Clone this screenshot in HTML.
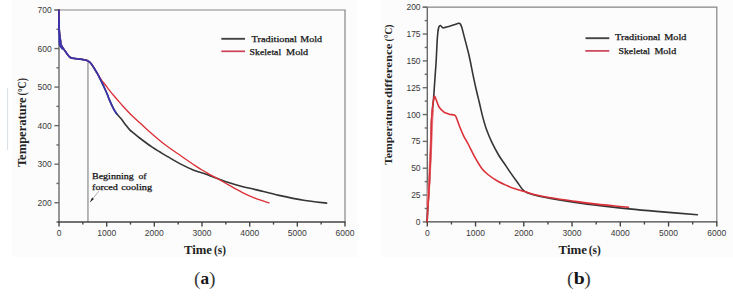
<!DOCTYPE html>
<html><head><meta charset="utf-8"><style>
html,body{margin:0;padding:0;background:#fff;width:733px;height:296px;overflow:hidden;font-family:"Liberation Sans",sans-serif;}
svg{display:block;}
</style></head><body>
<svg width="733" height="296" viewBox="0 0 733 296"><rect x="12" y="0" width="346" height="257" fill="#fcfcfc"/><rect x="382" y="0" width="351" height="257" fill="#fcfcfc"/><line x1="7.6" y1="88" x2="7.6" y2="150" stroke="#d6dee4" stroke-width="1"/><g stroke="#858585" stroke-width="1.2" fill="none"><line x1="54.4" y1="10" x2="345.6" y2="10"/><line x1="345" y1="10" x2="345" y2="222"/></g><line x1="87.95" y1="62.5" x2="87.95" y2="222" stroke="#9a9a9a" stroke-width="1.4"/><g stroke="#6a6a6a" stroke-width="1.4" fill="none"><line x1="59" y1="10" x2="59" y2="222"/><line x1="54.4" y1="10.00" x2="59" y2="10.00"/><line x1="56.4" y1="29.27" x2="59" y2="29.27"/><line x1="54.4" y1="48.55" x2="59" y2="48.55"/><line x1="56.4" y1="67.82" x2="59" y2="67.82"/><line x1="54.4" y1="87.09" x2="59" y2="87.09"/><line x1="56.4" y1="106.36" x2="59" y2="106.36"/><line x1="54.4" y1="125.64" x2="59" y2="125.64"/><line x1="56.4" y1="144.91" x2="59" y2="144.91"/><line x1="54.4" y1="164.18" x2="59" y2="164.18"/><line x1="56.4" y1="183.45" x2="59" y2="183.45"/><line x1="54.4" y1="202.73" x2="59" y2="202.73"/><line x1="56.4" y1="222.00" x2="59" y2="222.00"/></g><g stroke="#454545" stroke-width="1.4" fill="none"><line x1="57.8" y1="222" x2="345.6" y2="222"/><line x1="59.00" y1="222" x2="59.00" y2="226.6"/><line x1="82.83" y1="222" x2="82.83" y2="224.6"/><line x1="106.67" y1="222" x2="106.67" y2="226.6"/><line x1="130.50" y1="222" x2="130.50" y2="224.6"/><line x1="154.33" y1="222" x2="154.33" y2="226.6"/><line x1="178.17" y1="222" x2="178.17" y2="224.6"/><line x1="202.00" y1="222" x2="202.00" y2="226.6"/><line x1="225.83" y1="222" x2="225.83" y2="224.6"/><line x1="249.67" y1="222" x2="249.67" y2="226.6"/><line x1="273.50" y1="222" x2="273.50" y2="224.6"/><line x1="297.33" y1="222" x2="297.33" y2="226.6"/><line x1="321.17" y1="222" x2="321.17" y2="224.6"/><line x1="345.00" y1="222" x2="345.00" y2="226.6"/></g><path d="M58.90,10.00 C58.92,12.50 58.88,21.00 59.00,25.00 C59.12,29.00 59.33,31.33 59.60,34.00 C59.87,36.67 60.35,39.20 60.60,41.00 C60.85,42.80 60.35,43.12 61.10,44.80 C61.85,46.48 63.77,49.15 65.10,51.10 C66.43,53.05 67.92,55.32 69.10,56.50 C70.28,57.68 70.33,57.77 72.20,58.20 C74.07,58.63 78.12,58.80 80.30,59.10 C82.48,59.40 83.95,59.63 85.30,60.00 C86.65,60.37 87.42,60.68 88.40,61.30 C89.38,61.92 90.22,62.50 91.20,63.70 C92.18,64.90 93.28,66.88 94.30,68.50 C95.32,70.12 96.08,71.17 97.30,73.40 C98.52,75.63 100.37,79.38 101.60,81.90 C102.83,84.42 103.68,86.27 104.70,88.50 C105.72,90.73 106.93,93.45 107.70,95.30 C108.47,97.15 108.32,97.33 109.30,99.60 C110.28,101.87 112.33,106.48 113.60,108.90 C114.87,111.32 115.67,112.48 116.90,114.10 C118.13,115.72 119.65,116.97 121.00,118.60 C122.35,120.23 123.53,122.02 125.00,123.90 C126.47,125.78 128.30,128.32 129.80,129.90 C131.30,131.48 132.25,131.97 134.00,133.40 C135.75,134.83 137.27,136.20 140.30,138.50 C143.33,140.80 148.92,144.95 152.20,147.20 C155.48,149.45 157.35,150.38 160.00,152.00 C162.65,153.62 164.72,154.92 168.10,156.90 C171.48,158.88 176.02,161.67 180.30,163.90 C184.58,166.13 190.52,168.90 193.80,170.30 C197.08,171.70 197.97,171.63 200.00,172.30 C202.03,172.97 204.00,173.60 206.00,174.30 C208.00,175.00 210.00,175.77 212.00,176.50 C214.00,177.23 215.25,177.70 218.00,178.70 C220.75,179.70 224.50,181.20 228.50,182.50 C232.50,183.80 237.50,185.32 242.00,186.50 C246.50,187.68 249.32,188.12 255.50,189.60 C261.68,191.08 271.07,193.62 279.10,195.40 C287.13,197.18 295.78,199.02 303.70,200.30 C311.62,201.58 322.78,202.63 326.60,203.10" stroke="#353535" stroke-width="1.6" fill="none" stroke-linejoin="round" stroke-linecap="round"/><path d="M58.90,10.00 C58.92,12.50 58.88,21.00 59.00,25.00 C59.12,29.00 59.33,31.33 59.60,34.00 C59.87,36.67 60.35,39.20 60.60,41.00 C60.85,42.80 60.35,43.12 61.10,44.80 C61.85,46.48 63.77,49.15 65.10,51.10 C66.43,53.05 67.92,55.32 69.10,56.50 C70.28,57.68 70.33,57.77 72.20,58.20 C74.07,58.63 78.12,58.80 80.30,59.10 C82.48,59.40 83.95,59.63 85.30,60.00 C86.65,60.37 87.42,60.68 88.40,61.30 C89.38,61.92 90.22,62.50 91.20,63.70 C92.18,64.90 93.28,66.88 94.30,68.50 C95.32,70.12 96.18,71.60 97.30,73.40 C98.42,75.20 99.65,77.37 101.00,79.30 C102.35,81.23 103.98,83.17 105.40,85.00 C106.82,86.83 108.12,88.55 109.50,90.30 C110.88,92.05 112.38,93.92 113.70,95.50 C115.02,97.08 115.85,98.02 117.40,99.80 C118.95,101.58 120.50,103.48 123.00,106.20 C125.50,108.92 129.57,113.30 132.40,116.10 C135.23,118.90 137.30,120.53 140.00,123.00 C142.70,125.47 144.90,127.65 148.60,130.90 C152.30,134.15 157.80,139.02 162.20,142.50 C166.60,145.98 170.88,148.88 175.00,151.80 C179.12,154.72 183.55,157.70 186.90,160.00 C190.25,162.30 192.58,163.93 195.10,165.60 C197.62,167.27 199.75,168.63 202.00,170.00 C204.25,171.37 206.60,172.68 208.60,173.80 C210.60,174.92 212.10,175.67 214.00,176.70 C215.90,177.73 217.58,178.63 220.00,180.00 C222.42,181.37 224.83,182.85 228.50,184.90 C232.17,186.95 237.50,190.05 242.00,192.30 C246.50,194.55 251.00,196.65 255.50,198.40 C260.00,200.15 266.75,202.07 269.00,202.80" stroke="#dc3038" stroke-width="1.35" fill="none" stroke-linejoin="round" stroke-linecap="round"/><path d="M58.90,10.00 C58.92,12.50 58.88,21.00 59.00,25.00 C59.12,29.00 59.33,31.33 59.60,34.00 C59.87,36.67 60.35,39.20 60.60,41.00 C60.85,42.80 60.35,43.12 61.10,44.80 C61.85,46.48 63.77,49.15 65.10,51.10 C66.43,53.05 67.92,55.32 69.10,56.50 C70.28,57.68 70.33,57.77 72.20,58.20 C74.07,58.63 78.12,58.80 80.30,59.10 C82.48,59.40 83.95,59.63 85.30,60.00 C86.65,60.37 87.42,60.68 88.40,61.30 C89.38,61.92 90.22,62.50 91.20,63.70 C92.18,64.90 93.28,66.88 94.30,68.50 C95.32,70.12 96.08,71.17 97.30,73.40 C98.52,75.63 100.37,79.38 101.60,81.90 C102.83,84.42 103.68,86.27 104.70,88.50 C105.72,90.73 106.93,93.45 107.70,95.30 C108.47,97.15 108.32,97.33 109.30,99.60 C110.28,101.87 112.33,106.48 113.60,108.90 C114.87,111.32 116.35,113.23 116.90,114.10" stroke="#3833ad" stroke-width="1.7" fill="none" stroke-linejoin="round" stroke-linecap="round"/><path d="M59.00,20.00 C59.03,22.50 59.13,31.00 59.20,35.00 C59.27,39.00 59.17,42.03 59.40,44.00 C59.63,45.97 60.08,45.97 60.60,46.80 C61.12,47.63 62.18,48.63 62.50,49.00" stroke="#3833ad" stroke-width="1.6" fill="none" stroke-linecap="round"/><g font-family="Liberation Sans" font-size="8.5" fill="#3a3a3a"><text x="51.8" y="13.10" text-anchor="end">700</text><text x="51.8" y="51.65" text-anchor="end">600</text><text x="51.8" y="90.19" text-anchor="end">500</text><text x="51.8" y="128.74" text-anchor="end">400</text><text x="51.8" y="167.28" text-anchor="end">300</text><text x="51.8" y="205.83" text-anchor="end">200</text><text x="59.00" y="236.2" text-anchor="middle">0</text><text x="106.67" y="236.2" text-anchor="middle">1000</text><text x="154.33" y="236.2" text-anchor="middle">2000</text><text x="202.00" y="236.2" text-anchor="middle">3000</text><text x="249.67" y="236.2" text-anchor="middle">4000</text><text x="297.33" y="236.2" text-anchor="middle">5000</text><text x="345.00" y="236.2" text-anchor="middle">6000</text></g><g stroke="#858585" stroke-width="1.2" fill="none"><line x1="422.7" y1="7.2" x2="717.4" y2="7.2"/><line x1="716.8" y1="7.2" x2="716.8" y2="221.9"/></g><g stroke="#6a6a6a" stroke-width="1.4" fill="none"><line x1="427.3" y1="7.2" x2="427.3" y2="221.9"/><line x1="422.7" y1="7.20" x2="427.3" y2="7.20"/><line x1="424.7" y1="20.62" x2="427.3" y2="20.62"/><line x1="422.7" y1="34.04" x2="427.3" y2="34.04"/><line x1="424.7" y1="47.46" x2="427.3" y2="47.46"/><line x1="422.7" y1="60.88" x2="427.3" y2="60.88"/><line x1="424.7" y1="74.29" x2="427.3" y2="74.29"/><line x1="422.7" y1="87.71" x2="427.3" y2="87.71"/><line x1="424.7" y1="101.13" x2="427.3" y2="101.13"/><line x1="422.7" y1="114.55" x2="427.3" y2="114.55"/><line x1="424.7" y1="127.97" x2="427.3" y2="127.97"/><line x1="422.7" y1="141.39" x2="427.3" y2="141.39"/><line x1="424.7" y1="154.81" x2="427.3" y2="154.81"/><line x1="422.7" y1="168.22" x2="427.3" y2="168.22"/><line x1="424.7" y1="181.64" x2="427.3" y2="181.64"/><line x1="422.7" y1="195.06" x2="427.3" y2="195.06"/><line x1="424.7" y1="208.48" x2="427.3" y2="208.48"/><line x1="422.7" y1="221.90" x2="427.3" y2="221.90"/></g><g stroke="#454545" stroke-width="1.4" fill="none"><line x1="426.1" y1="221.9" x2="717.4" y2="221.9"/><line x1="427.30" y1="221.9" x2="427.30" y2="226.5"/><line x1="451.43" y1="221.9" x2="451.43" y2="224.5"/><line x1="475.55" y1="221.9" x2="475.55" y2="226.5"/><line x1="499.68" y1="221.9" x2="499.68" y2="224.5"/><line x1="523.80" y1="221.9" x2="523.80" y2="226.5"/><line x1="547.92" y1="221.9" x2="547.92" y2="224.5"/><line x1="572.05" y1="221.9" x2="572.05" y2="226.5"/><line x1="596.17" y1="221.9" x2="596.17" y2="224.5"/><line x1="620.30" y1="221.9" x2="620.30" y2="226.5"/><line x1="644.42" y1="221.9" x2="644.42" y2="224.5"/><line x1="668.55" y1="221.9" x2="668.55" y2="226.5"/><line x1="692.67" y1="221.9" x2="692.67" y2="224.5"/><line x1="716.80" y1="221.9" x2="716.80" y2="226.5"/></g><path d="M427.10,221.80 C427.25,219.00 427.70,209.97 428.00,205.00 C428.30,200.03 428.63,196.50 428.90,192.00 C429.17,187.50 429.35,183.33 429.60,178.00 C429.85,172.67 430.15,166.33 430.40,160.00 C430.65,153.67 430.90,146.67 431.10,140.00 C431.30,133.33 431.35,125.33 431.60,120.00 C431.85,114.67 432.27,111.67 432.60,108.00 C432.93,104.33 433.28,101.83 433.60,98.00 C433.92,94.17 434.20,89.33 434.50,85.00 C434.80,80.67 435.12,76.08 435.40,72.00 C435.68,67.92 435.92,65.50 436.20,60.50 C436.48,55.50 436.82,46.75 437.10,42.00 C437.38,37.25 437.60,34.52 437.90,32.00 C438.20,29.48 438.47,27.98 438.90,26.90 C439.33,25.82 439.85,25.35 440.50,25.50 C441.15,25.65 441.88,27.53 442.80,27.80 C443.72,28.07 444.73,27.40 446.00,27.10 C447.27,26.80 448.90,26.43 450.40,26.00 C451.90,25.57 453.65,24.95 455.00,24.50 C456.35,24.05 457.67,23.45 458.50,23.30 C459.33,23.15 459.48,23.02 460.00,23.60 C460.52,24.18 460.90,24.63 461.60,26.80 C462.30,28.97 462.97,31.85 464.20,36.60 C465.43,41.35 467.50,48.77 469.00,55.30 C470.50,61.83 471.98,70.02 473.20,75.80 C474.42,81.58 475.25,85.43 476.30,90.00 C477.35,94.57 478.45,98.80 479.50,103.20 C480.55,107.60 481.43,112.00 482.60,116.40 C483.77,120.80 484.93,125.22 486.50,129.60 C488.07,133.98 489.98,138.47 492.00,142.70 C494.02,146.93 496.57,151.57 498.60,155.00 C500.63,158.43 502.40,160.62 504.20,163.30 C506.00,165.98 507.30,168.08 509.40,171.10 C511.50,174.12 514.27,178.02 516.80,181.40 C519.33,184.78 521.52,189.10 524.60,191.40 C527.68,193.70 530.98,194.03 535.30,195.20 C539.62,196.37 543.88,197.20 550.50,198.40 C557.12,199.60 566.43,201.15 575.00,202.40 C583.57,203.65 592.88,204.82 601.90,205.90 C610.92,206.98 620.02,207.98 629.10,208.90 C638.18,209.82 645.02,210.43 656.40,211.40 C667.78,212.37 690.57,214.15 697.40,214.70" stroke="#353535" stroke-width="1.6" fill="none" stroke-linejoin="round" stroke-linecap="round"/><path d="M427.60,205.00 C427.77,202.50 428.30,194.50 428.60,190.00 C428.90,185.50 429.12,183.00 429.40,178.00 C429.68,173.00 430.00,166.33 430.30,160.00 C430.60,153.67 430.92,146.67 431.20,140.00 C431.48,133.33 431.73,125.00 432.00,120.00 C432.27,115.00 432.67,111.67 432.80,110.00" stroke="#e98a90" stroke-width="2.6" fill="none" stroke-linecap="round"/><path d="M427.10,221.80 C427.25,219.00 427.70,209.97 428.00,205.00 C428.30,200.03 428.63,196.50 428.90,192.00 C429.17,187.50 429.35,183.33 429.60,178.00 C429.85,172.67 430.15,166.33 430.40,160.00 C430.65,153.67 430.90,146.67 431.10,140.00 C431.30,133.33 431.33,125.67 431.60,120.00 C431.87,114.33 432.33,109.50 432.70,106.00 C433.07,102.50 433.47,100.62 433.80,99.00 C434.13,97.38 434.22,95.93 434.70,96.30 C435.18,96.67 435.95,99.38 436.70,101.20 C437.45,103.02 437.98,105.38 439.20,107.20 C440.42,109.02 442.60,111.03 444.00,112.10 C445.40,113.17 446.60,113.20 447.60,113.60 C448.60,114.00 448.88,114.27 450.00,114.50 C451.12,114.73 453.28,114.58 454.30,115.00 C455.32,115.42 455.17,114.97 456.10,117.00 C457.03,119.03 458.67,124.10 459.90,127.20 C461.13,130.30 462.08,132.72 463.50,135.60 C464.92,138.48 466.48,140.87 468.40,144.50 C470.32,148.13 472.77,153.42 475.00,157.40 C477.23,161.38 479.55,165.47 481.80,168.40 C484.05,171.33 485.97,172.95 488.50,175.00 C491.03,177.05 493.87,178.92 497.00,180.70 C500.13,182.48 504.30,184.35 507.30,185.70 C510.30,187.05 512.08,187.82 515.00,188.80 C517.92,189.78 521.42,190.60 524.80,191.60 C528.18,192.60 531.02,193.77 535.30,194.80 C539.58,195.83 543.88,196.70 550.50,197.80 C557.12,198.90 567.73,200.38 575.00,201.40 C582.27,202.42 587.73,203.17 594.10,203.90 C600.47,204.63 607.47,205.25 613.20,205.80 C618.93,206.35 625.95,206.97 628.50,207.20" stroke="#dc3038" stroke-width="1.6" fill="none" stroke-linejoin="round" stroke-linecap="round"/><g font-family="Liberation Sans" font-size="8.5" fill="#3a3a3a"><text x="420.6" y="10.30" text-anchor="end">200</text><text x="420.6" y="37.14" text-anchor="end">175</text><text x="420.6" y="63.98" text-anchor="end">150</text><text x="420.6" y="90.81" text-anchor="end">125</text><text x="420.6" y="117.65" text-anchor="end">100</text><text x="420.6" y="144.49" text-anchor="end">75</text><text x="420.6" y="171.33" text-anchor="end">50</text><text x="420.6" y="198.16" text-anchor="end">25</text><text x="420.6" y="225.00" text-anchor="end">0</text><text x="427.30" y="236.2" text-anchor="middle">0</text><text x="475.55" y="236.2" text-anchor="middle">1000</text><text x="523.80" y="236.2" text-anchor="middle">2000</text><text x="572.05" y="236.2" text-anchor="middle">3000</text><text x="620.30" y="236.2" text-anchor="middle">4000</text><text x="668.55" y="236.2" text-anchor="middle">5000</text><text x="716.80" y="236.2" text-anchor="middle">6000</text></g><line x1="221.3" y1="38.8" x2="245" y2="38.8" stroke="#444" stroke-width="1.9"/><line x1="221.3" y1="51.3" x2="245" y2="51.3" stroke="#cc4258" stroke-width="1.7"/><line x1="585.5" y1="38.2" x2="609.3" y2="38.2" stroke="#444" stroke-width="1.9"/><line x1="585.3" y1="50.9" x2="609.3" y2="50.9" stroke="#cc4258" stroke-width="1.7"/><g font-family="Liberation Serif" font-weight="normal" fill="#111" stroke="#111" stroke-width="0.25"><text x="251.60" y="41.80" font-size="9.1" textLength="45.40" lengthAdjust="spacingAndGlyphs">Traditional</text><text x="300.30" y="41.80" font-size="9.1" textLength="21.70" lengthAdjust="spacingAndGlyphs">Mold</text><text x="249.60" y="55.00" font-size="9.1" textLength="31.60" lengthAdjust="spacingAndGlyphs">Skeletal</text><text x="286.10" y="55.00" font-size="9.1" textLength="22.10" lengthAdjust="spacingAndGlyphs">Mold</text><text x="615.10" y="39.70" font-size="9.1" textLength="45.40" lengthAdjust="spacingAndGlyphs">Traditional</text><text x="664.30" y="39.70" font-size="9.1" textLength="22.10" lengthAdjust="spacingAndGlyphs">Mold</text><text x="618.50" y="53.50" font-size="9.1" textLength="31.50" lengthAdjust="spacingAndGlyphs">Skeletal</text><text x="654.40" y="53.50" font-size="9.1" textLength="21.80" lengthAdjust="spacingAndGlyphs">Mold</text></g><g font-family="Liberation Serif" font-weight="normal" fill="#111" stroke="#111" stroke-width="0.25"><text x="92.00" y="178.70" font-size="9.1" textLength="41.70" lengthAdjust="spacingAndGlyphs">Beginning</text><text x="138.40" y="178.70" font-size="9.1" textLength="8.10" lengthAdjust="spacingAndGlyphs">of</text><text x="92.00" y="189.50" font-size="9.1" textLength="25.90" lengthAdjust="spacingAndGlyphs">forced</text><text x="121.20" y="189.50" font-size="9.1" textLength="31.00" lengthAdjust="spacingAndGlyphs">cooling</text></g><line x1="98.8" y1="191.2" x2="92.9" y2="198.6" stroke="#8a8a8a" stroke-width="0.7"/><path d="M89.8,202.4 L92.1,197.6 L93.9,199.1 Z" fill="#1e1e1e"/><g font-family="Liberation Serif" font-weight="bold" fill="#222"><text transform="translate(26.0,167.1) rotate(-90) scale(1,1.0)" x="0" y="0" font-size="12.4" textLength="69.7" lengthAdjust="spacingAndGlyphs">Temperature</text><text transform="translate(26.0,95.6) rotate(-90) scale(1,1.0)" x="0" y="0" font-size="12.4" textLength="17.5" lengthAdjust="spacingAndGlyphs">(°C)</text><text transform="translate(392.1,165.1) rotate(-90) scale(1,0.84)" x="0" y="0" font-size="12.0" textLength="65.5" lengthAdjust="spacingAndGlyphs">Temperature</text><text transform="translate(392.1,98.1) rotate(-90) scale(1,0.84)" x="0" y="0" font-size="12.0" textLength="54.6" lengthAdjust="spacingAndGlyphs">difference</text><text transform="translate(392.1,41.5) rotate(-90) scale(1,0.84)" x="0" y="0" font-size="12.0" textLength="17.0" lengthAdjust="spacingAndGlyphs">(°C)</text><text x="184.00" y="253.90" font-size="12" textLength="28.00" lengthAdjust="spacingAndGlyphs">Time</text><text x="214.10" y="253.90" font-size="12" textLength="11.80" lengthAdjust="spacingAndGlyphs">(s)</text><text x="558.60" y="254.20" font-size="12.2" textLength="28.40" lengthAdjust="spacingAndGlyphs">Time</text><text x="588.80" y="254.20" font-size="12.2" textLength="12.00" lengthAdjust="spacingAndGlyphs">(s)</text></g><g font-family="Liberation Serif" fill="#141414"><text x="193.9" y="285.3" font-size="19.5" fill="#3a3a3a">(</text><text x="200.4" y="284.4" font-size="17.2" font-weight="bold">a</text><text x="209.0" y="285.3" font-size="19.5" fill="#3a3a3a">)</text><text x="567.1" y="284.8" font-size="19.5" fill="#3a3a3a">(</text><text x="573.7" y="284.0" font-size="16" font-weight="bold" textLength="11.0" lengthAdjust="spacingAndGlyphs">b</text><text x="584.2" y="284.8" font-size="19.5" fill="#3a3a3a">)</text></g></svg>
</body></html>
